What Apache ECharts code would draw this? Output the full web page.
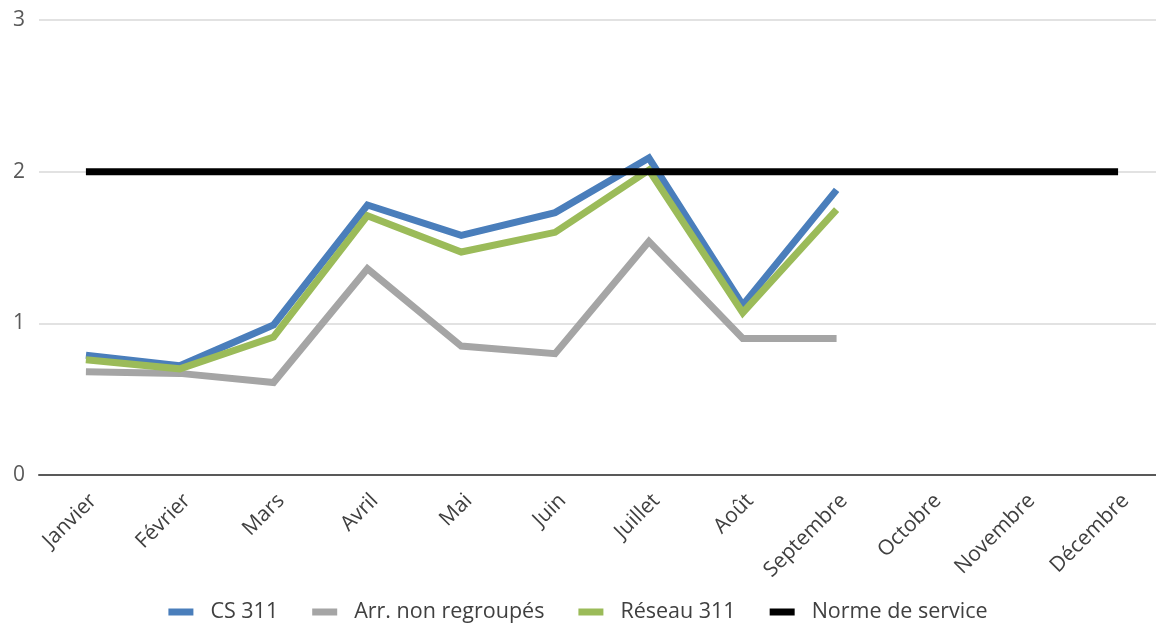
<!DOCTYPE html>
<html><head><meta charset="utf-8">
<script src="https://cdn.jsdelivr.net/npm/echarts@6/dist/echarts.min.js"></script>
<style>html,body{margin:0;padding:0;background:#fff}#c{width:1156px;height:623px}</style>
</head><body><div id="c"></div>
<script>
const months = ['Janvier','Février','Mars','Avril','Mai','Juin','Juillet','Août','Septembre','Octobre','Novembre','Décembre'];
const cs311 = [0.79,0.72,0.99,1.78,1.58,1.73,2.09,1.12,1.88,null,null,null];
const arrNonRegroupes = [0.68,0.67,0.61,1.36,0.85,0.80,1.54,0.90,0.90,null,null,null];
const reseau311 = [0.76,0.70,0.91,1.71,1.47,1.60,2.01,1.07,1.75,null,null,null];
const normeService = [2,2,2,2,2,2,2,2,2,2,2,2];
const yTicks = [0,1,2,3];

const font = '"Open Sans", Lato, sans-serif';
const chart = echarts.init(document.getElementById('c'), null, {renderer:'canvas'});
function line(name, data, color){
  return {name, type:'line', data, symbol:'none', lineStyle:{width:7, color, cap:'butt', join:'miter'}, itemStyle:{color}, connectNulls:false, animation:false};
}
chart.setOption({
  animation:false,
  textStyle:{fontFamily:font},
  grid:{left:39, top:20, width:1126, bottom:148, containLabel:false, outerBoundsMode:'none'},
  xAxis:{type:'category', data:months, boundaryGap:true,
    axisLine:{lineStyle:{color:'#595959', width:2}},
    axisTick:{show:false},
    axisLabel:{rotate:45, fontSize:21, color:'#404040', fontFamily:font, margin:15, interval:0, align:'right', verticalAlign:'top'}},
  yAxis:{type:'value', min:yTicks[0], max:yTicks[yTicks.length-1], interval:1,
    axisLine:{show:false}, axisTick:{show:false},
    splitLine:{lineStyle:{color:'#d9d9d9', width:1.5}},
    axisLabel:{fontSize:21, color:'#595959', fontFamily:font, margin:14}},
  legend:{top:596, left:'center', icon:'rect', itemWidth:25, itemHeight:7, itemGap:34,
    textStyle:{fontSize:21.5, color:'#404040', fontFamily:font, padding:[0,0,0,12]}},
  series:[
    line('CS 311', cs311, '#4a7ebb'),
    line('Arr. non regroupés', arrNonRegroupes, '#a5a5a5'),
    line('Réseau 311', reseau311, '#9bbb59'),
    line('Norme de service', normeService, '#000000')
  ]
});
</script></body></html>
